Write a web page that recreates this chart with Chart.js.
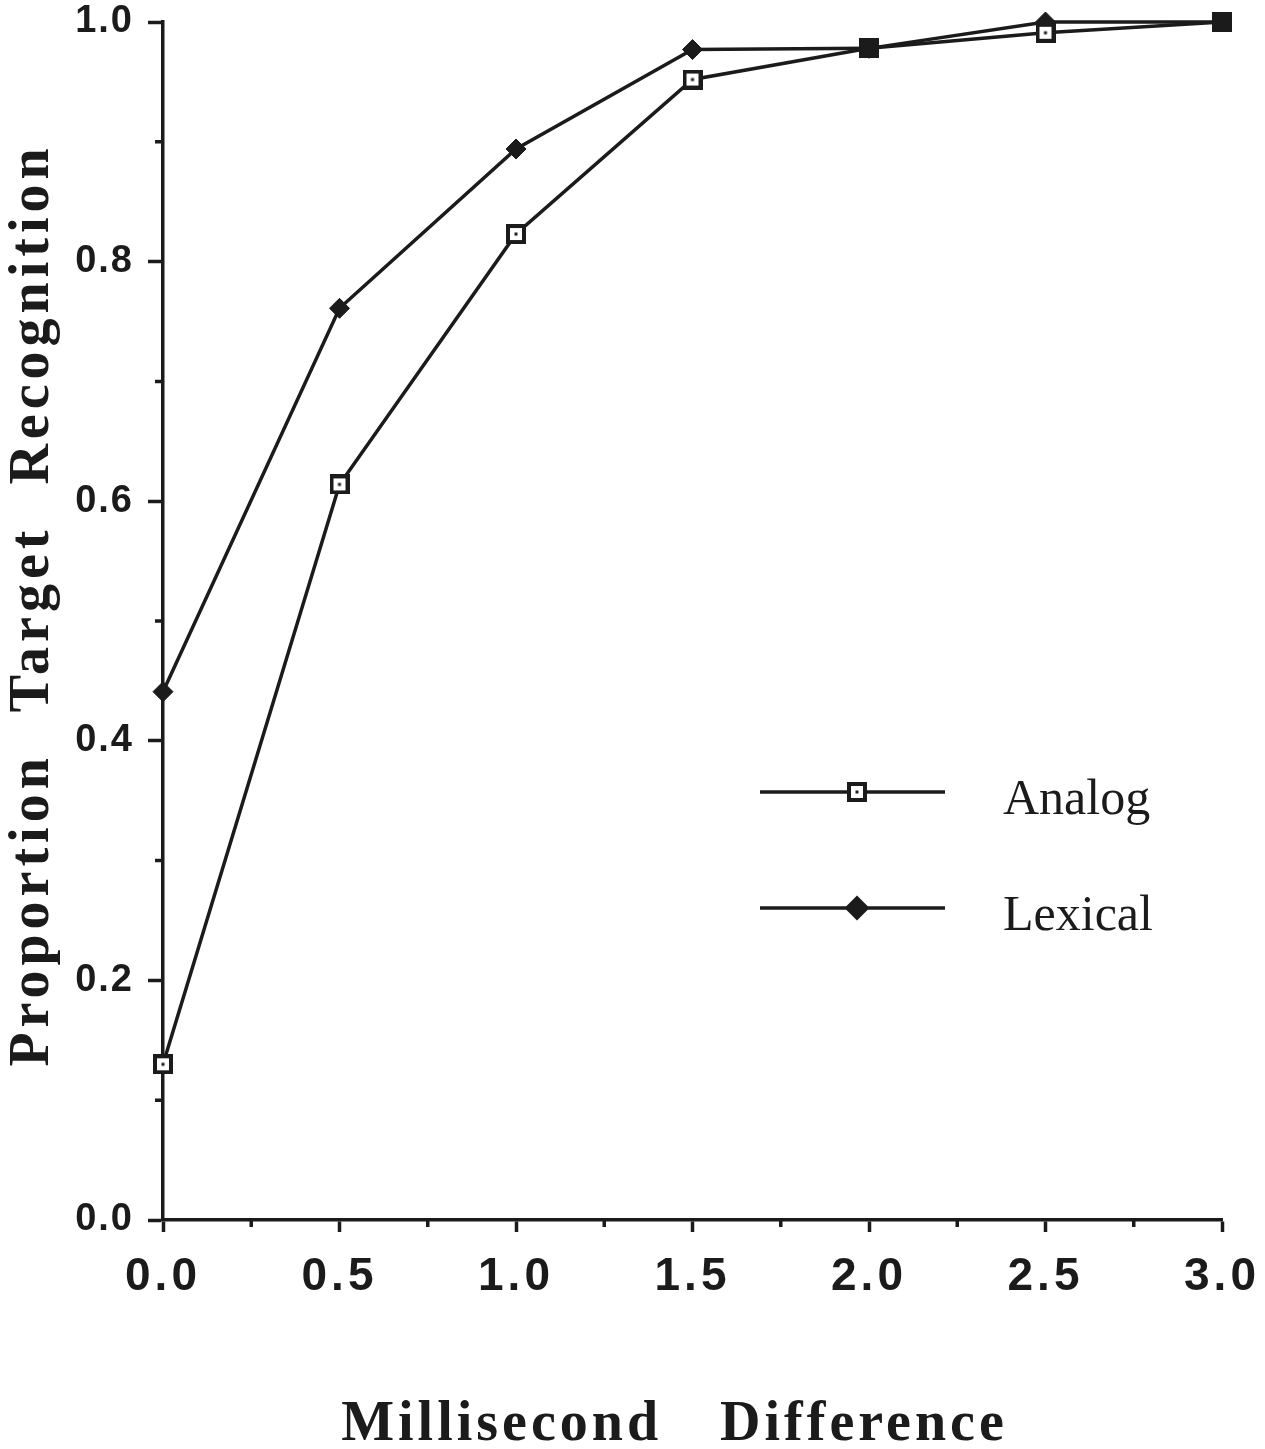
<!DOCTYPE html>
<html>
<head>
<meta charset="utf-8">
<script src="https://cdn.jsdelivr.net/npm/chart.js@4.4.1/dist/chart.umd.min.js"></script>
<style>
  html, body { margin: 0; padding: 0; background: #fff; }
</style>
</head>
<body>
<canvas id="chart" width="1265" height="1449"></canvas>
<script>
// valeurs
const xValues = [0.0, 0.5, 1.0, 1.5, 2.0, 2.5, 3.0];
const analogValues = [0.13, 0.614, 0.823, 0.952, 0.978, 0.991, 1.0];
const lexicalValues = [0.441, 0.761, 0.894, 0.977, 0.978, 1.0, 1.0];
const seriesLabels = ["Analog", "Lexical"];

const xTicks = [0.0, 0.5, 1.0, 1.5, 2.0, 2.5, 3.0];
const xMinorTicks = [0.25, 0.75, 1.25, 1.75, 2.25, 2.75];
const yTicks = [0.0, 0.2, 0.4, 0.6, 0.8, 1.0];
const yMinorTicks = [0.1, 0.3, 0.5, 0.7, 0.9];

const xTitle = "Millisecond Difference";
const yTitle = "Proportion Target Recognition";

const ink = "#1b1b1b";

// petits carrés pour les marqueurs "Analog"
function makeSquare(filled) {
    const c = document.createElement("canvas");
    c.width = 20;
    c.height = 20;
    const g = c.getContext("2d");
    g.fillStyle = ink;
    g.fillRect(0, 0, 20, 20);
    if (!filled) {
        g.fillStyle = "#fff";
        g.fillRect(4, 4, 12, 12);
        g.fillStyle = ink;
        g.fillRect(8.5, 8.5, 3, 3);
    }
    return c;
}
const openSquare = makeSquare(false);
const filledSquare = makeSquare(true);

// là où les deux courbes se superposent le carré paraît plein
const analogStyles = analogValues.map((v, i) =>
    Math.abs(v - lexicalValues[i]) < 0.005 ? filledSquare : openSquare);

function wrapText(scale, method, letter, word, dx, dy) {
    const orig = scale[method];
    scale[method] = function (...args) {
        const ctx = this.ctx;
        ctx.save();
        ctx.letterSpacing = letter;
        ctx.wordSpacing = word;
        ctx.translate(dx, dy);
        orig.apply(this, args);
        ctx.restore();
    };
}

const textSpacing = {
    id: "textSpacing",
    beforeDraw(chart, args, opts) {
        Object.values(chart.scales).forEach(scale => {
            const s = opts[scale.id];
            if (!s || scale._spaced) return;
            scale._spaced = true;
            wrapText(scale, "drawLabels", s.ticks, "0px", 0, 0);
            wrapText(scale, "drawTitle", s.title, s.word, s.dx, s.dy);
        });
    }
};

const minorTicks = {
    id: "minorTicks",
    afterDraw(chart) {
        const { ctx, scales: { x, y } } = chart;
        ctx.save();
        ctx.strokeStyle = ink;
        ctx.lineWidth = 3.5;
        ctx.beginPath();
        yMinorTicks.forEach(v => {
            const py = y.getPixelForValue(v);
            ctx.moveTo(y.right - 8, py);
            ctx.lineTo(y.right, py);
        });
        xMinorTicks.forEach(v => {
            const px = x.getPixelForValue(v);
            ctx.moveTo(px, x.top);
            ctx.lineTo(px, x.top + 7);
        });
        ctx.stroke();
        ctx.restore();
    }
};

const lineLegend = {
    id: "lineLegend",
    afterDatasetsDraw(chart, args, opts) {
        const ctx = chart.ctx;
        ctx.save();
        chart.data.datasets.forEach((ds, i) => {
            const y = opts.rows[i];
            ctx.strokeStyle = ink;
            ctx.lineWidth = 3.5;
            ctx.beginPath();
            ctx.moveTo(opts.lineStart, y);
            ctx.lineTo(opts.lineEnd, y);
            ctx.stroke();
            if (ds.legendMarker === "square") {
                ctx.drawImage(openSquare, opts.markerX - 10, y - 10);
            } else {
                ctx.fillStyle = ink;
                Chart.helpers.drawPoint(ctx, { pointStyle: "rectRot", radius: 10, borderWidth: 1 }, opts.markerX, y);
            }
            ctx.fillStyle = ink;
            ctx.font = opts.font;
            ctx.textBaseline = "alphabetic";
            ctx.fillText(ds.label, opts.textX, y + opts.baseline);
        });
        ctx.restore();
    }
};

// pas de marge automatique autour des étiquettes
function noLabelPadding(s) {
    s.paddingTop = 0;
    s.paddingBottom = 0;
    s.paddingLeft = 0;
    s.paddingRight = 0;
}

const ctx = document.getElementById("chart").getContext("2d");
new Chart(ctx, {
    type: "line",
    data: {
        datasets: [
            {
                label: seriesLabels[0],
                data: xValues.map((x, i) => ({ x: x, y: analogValues[i] })),
                borderColor: ink,
                borderWidth: 3.5,
                pointStyle: analogStyles,
                legendMarker: "square",
                tension: 0,
                clip: false
            },
            {
                label: seriesLabels[1],
                data: xValues.map((x, i) => ({ x: x, y: lexicalValues[i] })),
                borderColor: ink,
                borderWidth: 3.5,
                pointStyle: "rectRot",
                pointRadius: 10,
                pointBackgroundColor: ink,
                pointBorderColor: ink,
                pointBorderWidth: 1,
                legendMarker: "diamond",
                tension: 0,
                clip: false
            }
        ]
    },
    options: {
        responsive: false,
        animation: false,
        layout: { padding: { top: 22, right: 43, left: 0, bottom: 0 } },
        plugins: {
            legend: { display: false },
            tooltip: { enabled: false },
            textSpacing: {
                x: { ticks: "4px", title: "4px", word: "40px", dx: -18, dy: 5 },
                y: { ticks: "2px", title: "5px", word: "22px", dx: 0, dy: -16 }
            },
            lineLegend: {
                lineStart: 760, lineEnd: 945, markerX: 857, textX: 1003,
                rows: [792, 908], baseline: 22,
                font: "50px 'Liberation Serif'"
            }
        },
        scales: {
            x: {
                type: "linear",
                min: 0,
                max: 3,
                afterBuildTicks: s => { s.ticks = xTicks.map(v => ({ value: v })); },
                afterFit: s => { s.height = 229; noLabelPadding(s); },
                ticks: {
                    callback: v => v.toFixed(1),
                    font: { family: "'Liberation Sans'", size: 46, weight: "bold" },
                    color: ink,
                    padding: 18,
                    maxRotation: 0,
                    autoSkip: false
                },
                grid: { drawOnChartArea: false, tickLength: 12, tickWidth: 3.5, tickColor: ink },
                border: { color: ink, width: 3.5 },
                title: {
                    display: true,
                    text: xTitle,
                    color: ink,
                    font: { family: "'Liberation Serif'", size: 56, weight: "bold", lineHeight: 1 },
                    padding: { top: 0, bottom: 0 }
                }
            },
            y: {
                min: 0,
                max: 1,
                afterBuildTicks: s => { s.ticks = yTicks.map(v => ({ value: v })); },
                afterFit: s => { s.width = 163; noLabelPadding(s); },
                ticks: {
                    callback: v => v.toFixed(1),
                    font: { family: "'Liberation Sans'", size: 38, weight: "bold" },
                    color: ink,
                    padding: 14,
                    autoSkip: false
                },
                grid: { drawOnChartArea: false, tickLength: 15, tickWidth: 3.5, tickColor: ink },
                border: { color: ink, width: 3.5 },
                title: {
                    display: true,
                    text: yTitle,
                    color: ink,
                    font: { family: "'Liberation Serif'", size: 56, weight: "bold", lineHeight: 1 },
                    padding: { top: 6, bottom: 0 }
                }
            }
        }
    },
    plugins: [textSpacing, minorTicks, lineLegend]
});
</script>
</body>
</html>
